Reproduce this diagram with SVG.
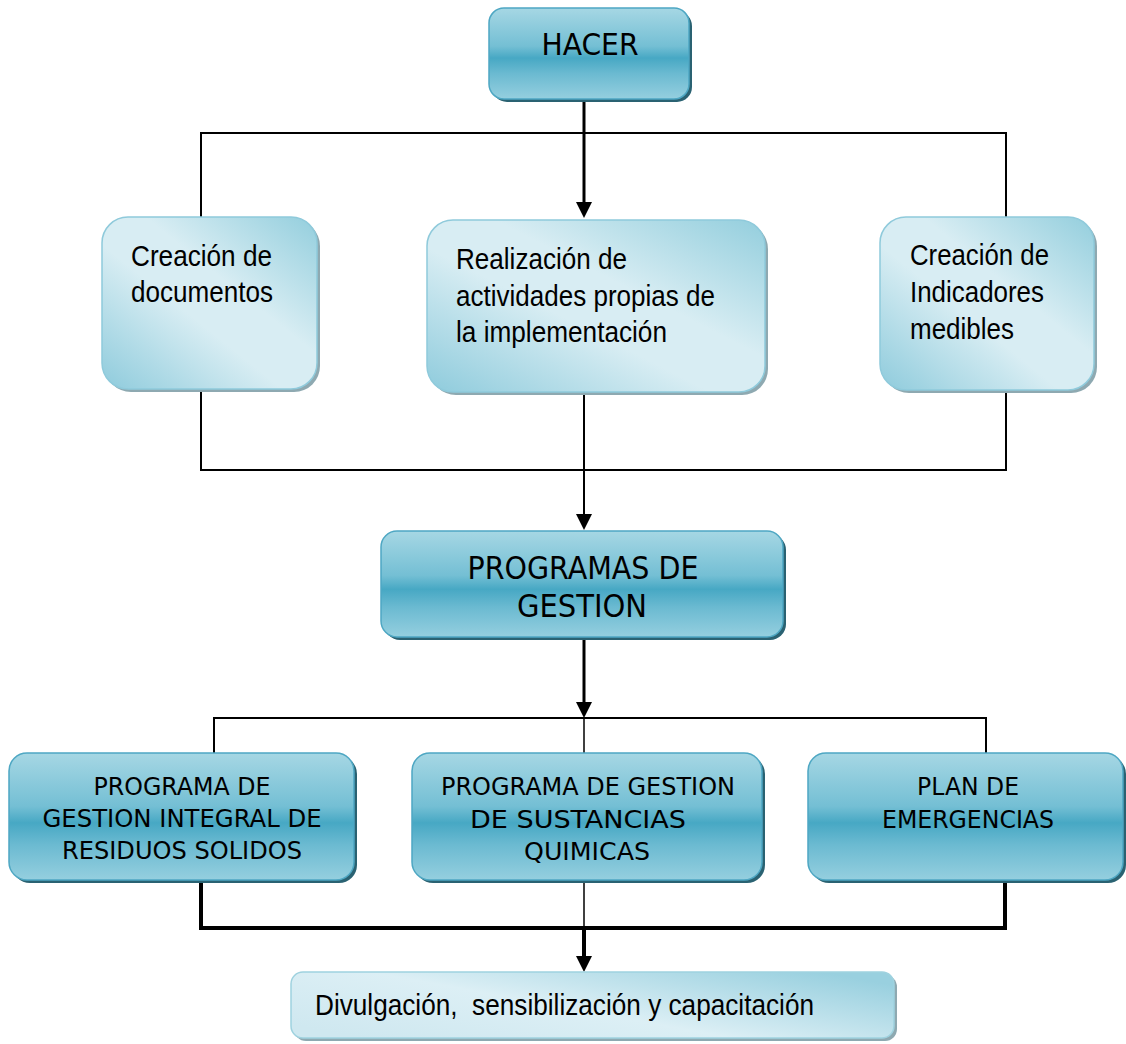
<svg xmlns="http://www.w3.org/2000/svg" width="1126" height="1044" viewBox="0 0 1126 1044">
  <defs>
    <!-- strong teal fill for the main process boxes -->
    <linearGradient id="gDark" x1="0" y1="0" x2="0" y2="1">
      <stop offset="0" stop-color="#a6d7e4"/>
      <stop offset="0.42" stop-color="#74bfd4"/>
      <stop offset="0.55" stop-color="#47a8c4"/>
      <stop offset="0.72" stop-color="#6bbad1"/>
      <stop offset="1" stop-color="#95cfdf"/>
    </linearGradient>
    <!-- pale diagonal fill for the activity boxes -->
    <linearGradient id="gLight" x1="0" y1="1" x2="1" y2="0">
      <stop offset="0" stop-color="#8ecbdc"/>
      <stop offset="0.42" stop-color="#d8edf3"/>
      <stop offset="0.6" stop-color="#d8edf3"/>
      <stop offset="1" stop-color="#93cedd"/>
    </linearGradient>
    <linearGradient id="gWide" x1="0" y1="0.8" x2="1" y2="0.2">
      <stop offset="0" stop-color="#cfe8f0"/>
      <stop offset="0.45" stop-color="#dceff5"/>
      <stop offset="1" stop-color="#99d0df"/>
    </linearGradient>
    <marker id="arrow" markerUnits="userSpaceOnUse" markerWidth="16" markerHeight="16"
            viewBox="0 0 16 16" refX="8" refY="8" orient="auto">
      <path d="M0,0 L16,8 L0,16 z" fill="#000"/>
    </marker>
  </defs>
  <style>
    .dark { fill: url(#gDark); stroke: #4ea7c3; stroke-width: 1.5; }
    .darkShadow { fill: #2a6272; }
    .light { fill: url(#gLight); stroke: #8fcadb; stroke-width: 1.5; }
    .lightShadow { fill: #8ea9b1; }
    .wide { fill: url(#gWide); stroke: #9fd2df; stroke-width: 1.5; }
    .caps { font-family: "DejaVu Sans Condensed", "DejaVu Sans", sans-serif; fill: #000; text-anchor: middle; }
    .row { font-size: 24px; }
    .body { font-family: "Liberation Sans Narrow", "Liberation Sans", Arial, sans-serif; font-size: 30px; fill: #000; }
    .conn { fill: none; stroke: #000; stroke-linejoin: miter; }
  </style>

  <rect x="0" y="0" width="1126" height="1044" fill="#fff"/>

  <!-- connectors -->
  <g id="connectors">
    <line class="conn" x1="584" y1="102" x2="584" y2="210" stroke-width="3" marker-end="url(#arrow)"/>
    <path class="conn" d="M201,218 V133 H1006 V218" stroke-width="2"/>
    <path class="conn" d="M201,390 V470 H1006 V390" stroke-width="2"/>
    <line class="conn" x1="584" y1="392" x2="584" y2="522" stroke-width="2" marker-end="url(#arrow)"/>
    <line class="conn" x1="584" y1="639" x2="584" y2="710" stroke-width="3" marker-end="url(#arrow)"/>
    <path class="conn" d="M214,755 V718 H986 V755" stroke-width="2"/>
    <line class="conn" x1="584" y1="718" x2="584" y2="755" stroke-width="1.5"/>
    <path class="conn" d="M201,880 V928 H1005 V880" stroke-width="4"/>
    <line class="conn" x1="584" y1="880" x2="584" y2="928" stroke-width="1.5"/>
    <line class="conn" x1="584" y1="928" x2="584" y2="964" stroke-width="4" marker-end="url(#arrow)"/>
  </g>

  <g id="hacer">
    <rect class="darkShadow" x="492" y="11" width="200" height="91" rx="15"/>
    <rect class="dark" x="489" y="8" width="200" height="91" rx="15"/>
    <text class="caps" x="590" y="55" font-size="31" textLength="97" lengthAdjust="spacingAndGlyphs">HACER</text>
  </g>

  <g id="creacion-documentos">
    <rect class="lightShadow" x="105" y="220" width="215" height="172" rx="26"/>
    <rect class="light" x="102" y="217" width="215" height="172" rx="26"/>
    <text class="body" x="131" y="266" textLength="141" lengthAdjust="spacingAndGlyphs">Creación de</text>
    <text class="body" x="131" y="302" textLength="142" lengthAdjust="spacingAndGlyphs">documentos</text>
  </g>

  <g id="realizacion-actividades">
    <rect class="lightShadow" x="430" y="223" width="338" height="172" rx="26"/>
    <rect class="light" x="427" y="220" width="338" height="172" rx="26"/>
    <text class="body" x="456" y="269" textLength="171" lengthAdjust="spacingAndGlyphs">Realización de</text>
    <text class="body" x="456" y="306" textLength="259" lengthAdjust="spacingAndGlyphs">actividades propias de</text>
    <text class="body" x="456" y="342" textLength="211" lengthAdjust="spacingAndGlyphs">la implementación</text>
  </g>

  <g id="creacion-indicadores">
    <rect class="lightShadow" x="883" y="220" width="214" height="173" rx="26"/>
    <rect class="light" x="880" y="217" width="214" height="173" rx="26"/>
    <text class="body" x="910" y="265" textLength="139" lengthAdjust="spacingAndGlyphs">Creación de</text>
    <text class="body" x="910" y="302" textLength="134" lengthAdjust="spacingAndGlyphs">Indicadores</text>
    <text class="body" x="910" y="339" textLength="104" lengthAdjust="spacingAndGlyphs">medibles</text>
  </g>

  <g id="programas-gestion">
    <rect class="darkShadow" x="384" y="534" width="402" height="106" rx="16"/>
    <rect class="dark" x="381" y="531" width="402" height="106" rx="16"/>
    <text class="caps" x="583" y="579" font-size="32" textLength="231" lengthAdjust="spacingAndGlyphs">PROGRAMAS DE</text>
    <text class="caps" x="582" y="617" font-size="32" textLength="130" lengthAdjust="spacingAndGlyphs">GESTION</text>
  </g>

  <g id="residuos-solidos">
    <rect class="darkShadow" x="12" y="756" width="345" height="127" rx="18"/>
    <rect class="dark" x="9" y="753" width="345" height="127" rx="18"/>
    <text class="caps row" x="182" y="795" textLength="177" lengthAdjust="spacingAndGlyphs">PROGRAMA DE</text>
    <text class="caps row" x="182" y="827" textLength="279" lengthAdjust="spacingAndGlyphs">GESTION INTEGRAL DE</text>
    <text class="caps row" x="182" y="859" textLength="240" lengthAdjust="spacingAndGlyphs">RESIDUOS SOLIDOS</text>
  </g>

  <g id="sustancias-quimicas">
    <rect class="darkShadow" x="415" y="756" width="350" height="127" rx="18"/>
    <rect class="dark" x="412" y="753" width="350" height="127" rx="18"/>
    <text class="caps row" x="588" y="795" textLength="294" lengthAdjust="spacingAndGlyphs">PROGRAMA DE GESTION</text>
    <text class="caps row" x="578" y="828" textLength="216" lengthAdjust="spacingAndGlyphs">DE SUSTANCIAS</text>
    <text class="caps row" x="587" y="860" textLength="126" lengthAdjust="spacingAndGlyphs">QUIMICAS</text>
  </g>

  <g id="plan-emergencias">
    <rect class="darkShadow" x="811" y="756" width="315" height="127" rx="18"/>
    <rect class="dark" x="808" y="753" width="315" height="127" rx="18"/>
    <text class="caps row" x="968" y="795" textLength="102" lengthAdjust="spacingAndGlyphs">PLAN DE</text>
    <text class="caps row" x="968" y="828" textLength="172" lengthAdjust="spacingAndGlyphs">EMERGENCIAS</text>
  </g>

  <g id="divulgacion">
    <rect class="lightShadow" x="294" y="975" width="603" height="66" rx="12"/>
    <rect class="wide" x="291" y="972" width="603" height="66" rx="12"/>
    <text class="body" x="315" y="1015" xml:space="preserve" textLength="499" lengthAdjust="spacingAndGlyphs">Divulgación,  sensibilización y capacitación</text>
  </g>
</svg>
